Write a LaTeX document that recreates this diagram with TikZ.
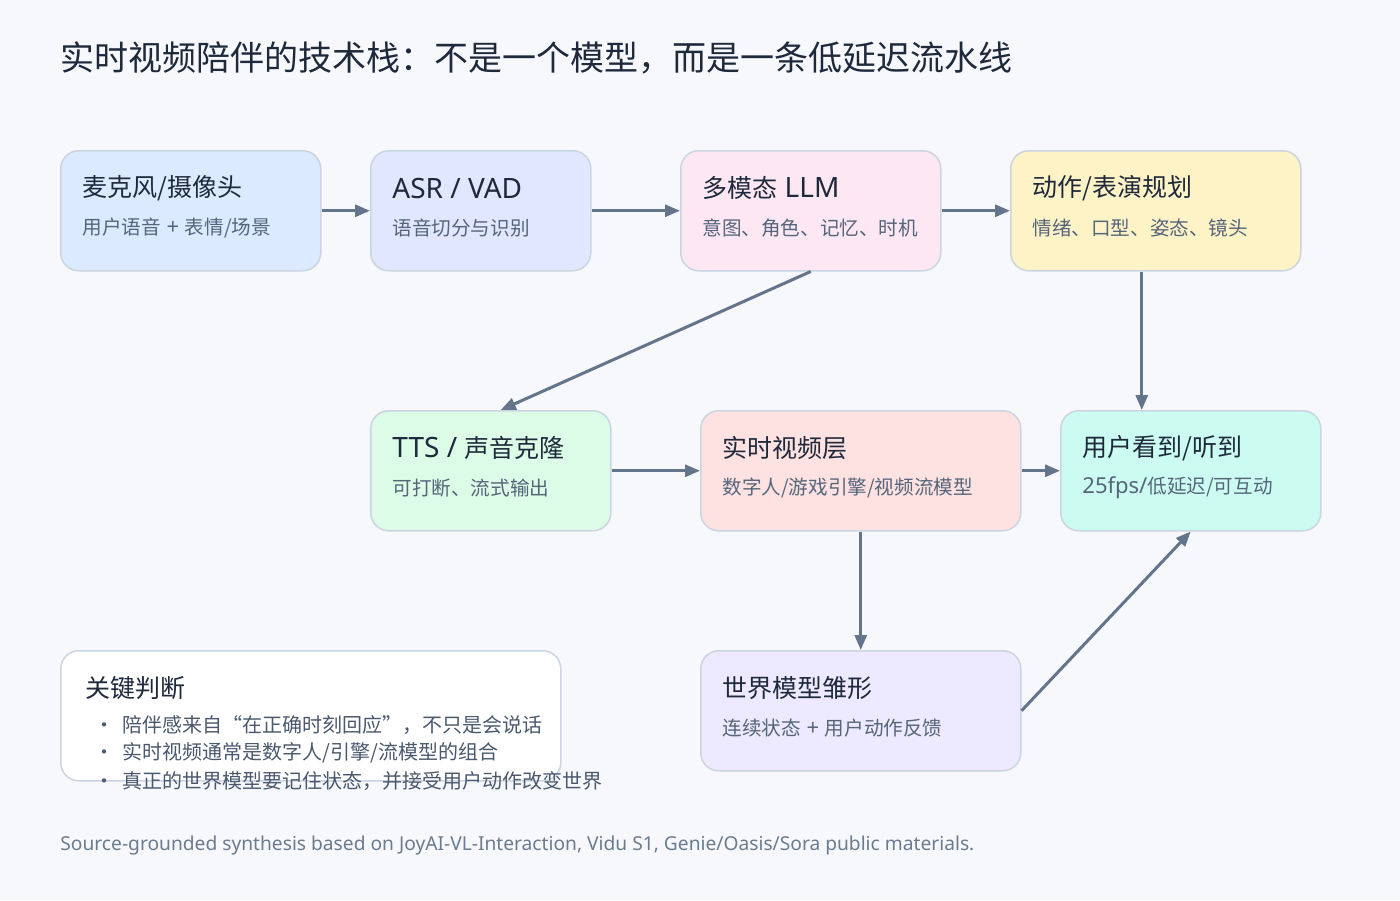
\documentclass[tikz,border=0pt]{standalone}
\usepackage{fontspec}
\setmainfont{Noto Sans CJK SC}
\newfontfamily\lat{Noto Sans}
\newcommand{\lathead}[1]{{\lat\fontsize{14}{16}\selectfont#1}}
\newcommand{\latsub}[1]{{\lat\fontsize{11}{13}\selectfont#1}}
\usetikzlibrary{arrows.meta}
\definecolor{bgC}{HTML}{F6F8FB}
\definecolor{edgeC}{HTML}{CBD5E1}
\definecolor{headC}{HTML}{1E293B}
\definecolor{subC}{HTML}{55657A}
\definecolor{lineC}{HTML}{64748B}
\definecolor{footC}{HTML}{6B7B90}
\definecolor{micC}{HTML}{DBEAFE}
\definecolor{asrC}{HTML}{E0E7FF}
\definecolor{llmC}{HTML}{FCE7F3}
\definecolor{actC}{HTML}{FEF3C7}
\definecolor{ttsC}{HTML}{DCFCE7}
\definecolor{vidC}{HTML}{FEE2E2}
\definecolor{seeC}{HTML}{CCFBF1}
\definecolor{worldC}{HTML}{EDE9FE}
\begin{document}
\begin{tikzpicture}[x=0.5pt, y=-0.5pt,
    stage/.style={rectangle, draw=edgeC, line width=0.75pt, rounded corners=9pt, anchor=north west, minimum height=60pt, inner sep=0pt},
    head/.style={anchor=west, inner sep=0pt, text=headC, font=\fontsize{12.5}{15}\selectfont},
    sub/.style={anchor=west, inner sep=0pt, text=subC, font=\fontsize{9.8}{12}\selectfont},
    point/.style={anchor=west, inner sep=0pt, text=subC!80!headC, font=\fontsize{10}{12}\selectfont},
    dot/.style={anchor=base, inner sep=0pt, text=subC!80!headC, font=\fontsize{10}{12}\selectfont},
    arr/.style={-{Triangle[length=7.5pt, width=6pt]}, line width=1.5pt, draw=lineC}
]
\fill[bgC] (0,0) rectangle (1400,900);
\node[anchor=west, inner sep=0pt, text=headC, font=\fontsize{17}{21}\selectfont] (title) at (60,58) {实时视频陪伴的技术栈：不是一个模型，而是一条低延迟流水线};

% top row
\node[stage, fill=micC, minimum width=130pt] (mic) at (60,150) {};
\node[head] (mic-h) at (82,188) {麦克风/摄像头};
\node[sub] (mic-s) at (82,228) {用户语音\latsub{ + }表情/场景};
\node[stage, fill=asrC, minimum width=110pt] (asr) at (370,150) {};
\node[head] (asr-h) at (392,188) {\lathead{ASR / VAD}};
\node[sub] (asr-s) at (392,228) {语音切分与识别};
\node[stage, fill=llmC, minimum width=130pt] (llm) at (680,150) {};
\node[head] (llm-h) at (702,188) {多模态\lathead{ LLM}};
\node[sub] (llm-s) at (702,228) {意图、角色、记忆、时机};
\node[stage, fill=actC, minimum width=145pt] (act) at (1010,150) {};
\node[head] (act-h) at (1032,188) {动作/表演规划};
\node[sub] (act-s) at (1032,228) {情绪、口型、姿态、镜头};

% middle row
\node[stage, fill=ttsC, minimum width=120pt] (tts) at (370,410) {};
\node[head] (tts-h) at (392,448) {\lathead{TTS / }声音克隆};
\node[sub] (tts-s) at (392,488) {可打断、流式输出};
\node[stage, fill=vidC, minimum width=160pt] (vid) at (700,410) {};
\node[head] (vid-h) at (722,448) {实时视频层};
\node[sub] (vid-s) at (722,488) {数字人/游戏引擎/视频流模型};
\node[stage, fill=seeC, minimum width=130pt] (see) at (1060,410) {};
\node[head] (see-h) at (1082,448) {用户看到/听到};
\node[sub] (see-s) at (1082,488) {\latsub{25fps/}低延迟/可互动};

% bottom row
\node[stage, fill=worldC, minimum width=160pt] (world) at (700,650) {};
\node[head] (world-h) at (722,688) {世界模型雏形};
\node[sub] (world-s) at (722,728) {连续状态\latsub{ + }用户动作反馈};

% key points
\node[stage, fill=white, minimum width=250pt, minimum height=65pt] (note) at (60,650) {};
\node[head] (note-h) at (85,688) {关键判断};
\node[point] (pt1) at (122,725) {陪伴感来自“在正确时刻回应”，不只是会说话};
\node[point] (pt2) at (122,753) {实时视频通常是数字人/引擎/流模型的组合};
\node[point] (pt3) at (122,781) {真正的世界模型要记住状态，并接受用户动作改变世界};
\node[dot] (dot1) at ([xshift=-9pt]pt1.base west) {·};
\node[dot] (dot2) at ([xshift=-9pt]pt2.base west) {·};
\node[dot] (dot3) at ([xshift=-9pt]pt3.base west) {·};

\node[anchor=west, inner sep=0pt, text=footC, font=\lat\fontsize{9.6}{11}\selectfont] (foot) at (60,845) {Source-grounded synthesis based on JoyAI-VL-Interaction, Vidu S1, Genie/Oasis/Sora public materials.};

% connectors
\draw[arr] (mic) -- (asr);
\draw[arr] (asr) -- (llm);
\draw[arr] (llm) -- (act);
\draw[arr] ([xshift=-7pt]act.south) -- ([xshift=-7pt]act.south |- see.north);
\draw[arr] (llm.south) -- ([xshift=5pt]tts.north);
\draw[arr] (tts) -- (vid);
\draw[arr] (vid) -- (see);
\draw[arr] (vid) -- (world);
\draw[arr] (world.east) -- (see.south);
\end{tikzpicture}
\end{document}
